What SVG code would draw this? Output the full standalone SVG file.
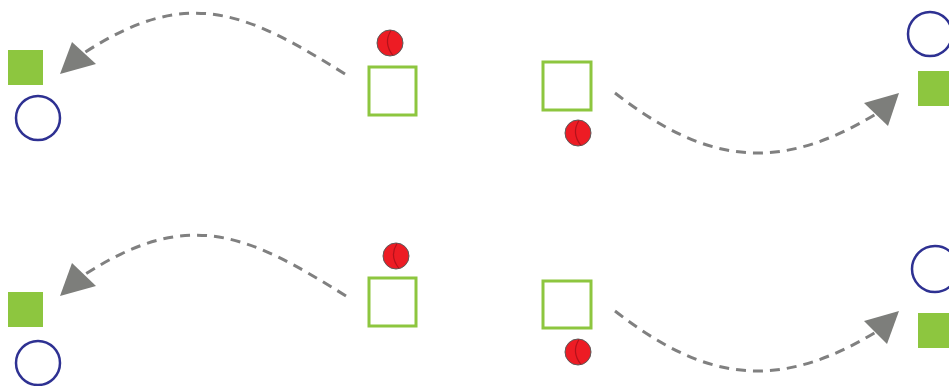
<svg xmlns="http://www.w3.org/2000/svg" width="949" height="386" viewBox="0 0 949 386">
<defs>
<style>
.sq{fill:#8dc63f}
.box{fill:none;stroke:#8dc63f;stroke-width:3}
.ring{fill:none;stroke:#2e3192;stroke-width:2.5}
.ball{fill:#ed1c24;stroke:#5a5a5a;stroke-width:1}
.seam{fill:none;stroke:#b3121b;stroke-width:1.2}
.edge{fill:none;stroke:#808080;stroke-width:3;stroke-dasharray:10 7}
.head{fill:#7d7e7b}
</style>
</defs>
<rect width="949" height="386" fill="#ffffff"/>
<g id="connectors">
<path class="edge" d="M345,74 C246,12 188,-15 84,53"/>
<polygon class="head" points="60,74 72,42 96,64"/>
<path class="edge" d="M346,296 C247,234 189,207 84,275"/>
<polygon class="head" points="60,296 72,263 96,286"/>
<path class="edge" d="M615,93 C705,163 777,174 876,114"/>
<polygon class="head" points="899,93 864,103 888,126"/>
<path class="edge" d="M615,311 C705,381 777,392 876,332"/>
<polygon class="head" points="899,311 864,321 887,344"/>
</g>
<g id="tl-square"><rect class="sq" x="8" y="50" width="35" height="35"/></g>
<g id="tl-circle"><circle class="ring" cx="38" cy="118" r="22"/></g>
<g id="bl-square"><rect class="sq" x="8" y="292" width="35" height="35"/></g>
<g id="bl-circle"><circle class="ring" cx="38" cy="363" r="22"/></g>
<g id="tr-circle"><circle class="ring" cx="930" cy="34" r="22"/></g>
<g id="tr-square"><rect class="sq" x="918" y="71" width="35" height="35"/></g>
<g id="br-circle"><circle class="ring" cx="935" cy="269" r="23"/></g>
<g id="br-square"><rect class="sq" x="918" y="313" width="35" height="35"/></g>
<g id="box1"><rect class="box" x="369" y="67" width="47" height="48"/></g>
<g id="box2"><rect class="box" x="543" y="62" width="48" height="48"/></g>
<g id="box3"><rect class="box" x="369" y="278" width="47" height="48"/></g>
<g id="box4"><rect class="box" x="543" y="281" width="48" height="47"/></g>
<g id="ball1"><circle class="ball" cx="390" cy="43" r="13"/><path class="seam" d="M391,30.5 Q383,43 393,55.5"/></g>
<g id="ball2"><circle class="ball" cx="578" cy="133" r="13"/><path class="seam" d="M579,120.5 Q571,133 581,145.5"/></g>
<g id="ball3"><circle class="ball" cx="396" cy="256" r="13"/><path class="seam" d="M397,243.5 Q389,256 399,268.5"/></g>
<g id="ball4"><circle class="ball" cx="578" cy="352" r="13"/><path class="seam" d="M579,339.5 Q571,352 581,364.5"/></g>
</svg>
